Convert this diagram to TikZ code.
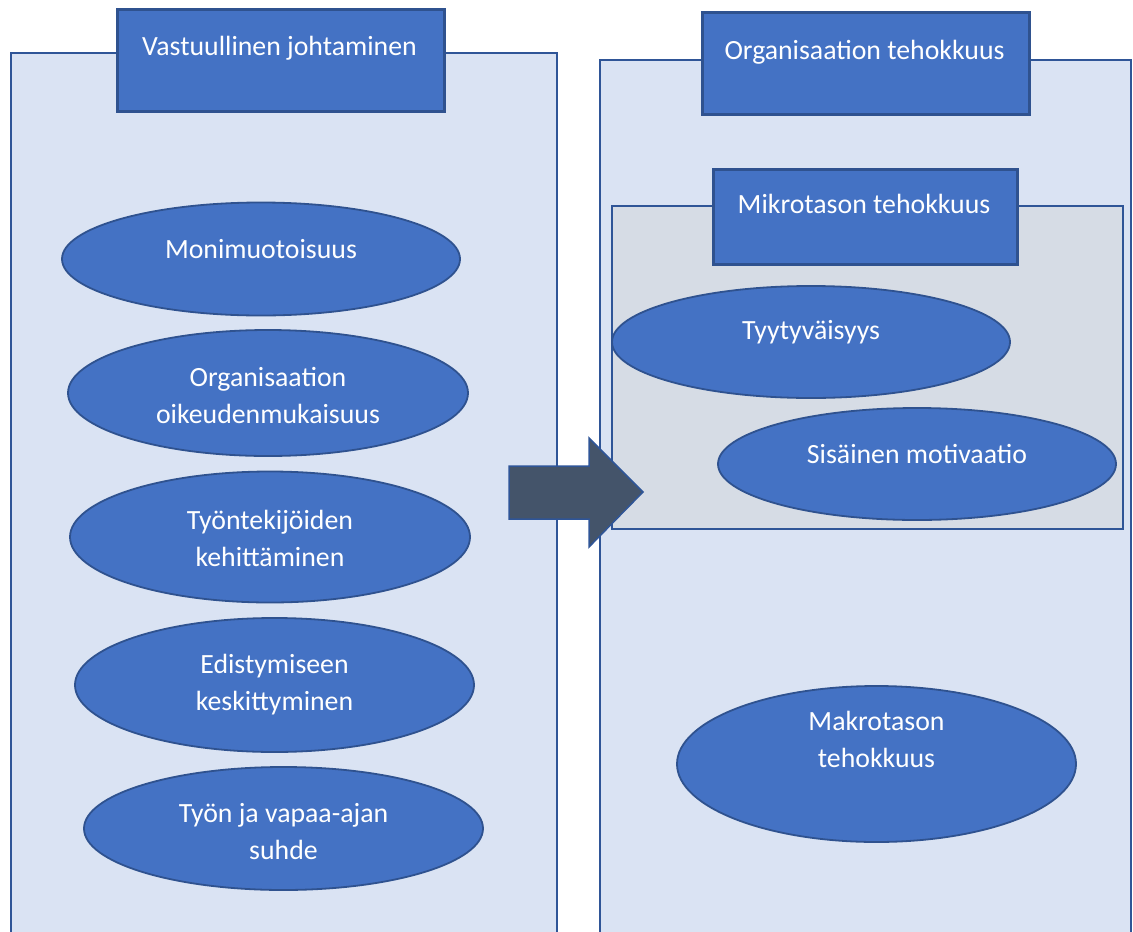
\documentclass[tikz,border=0pt]{standalone}
\usepackage{fontspec}
\setmainfont{Carlito}
\usetikzlibrary{shapes.geometric}
\definecolor{panelfill}{HTML}{DAE3F3}
\definecolor{panelline}{HTML}{2F5597}
\definecolor{shapefill}{HTML}{4472C4}
\definecolor{shapeline}{HTML}{2F528F}
\definecolor{innerfill}{HTML}{D6DCE5}
\definecolor{arrowfill}{HTML}{44546A}
\tikzset{
  panel/.style={draw=panelline, fill=panelfill, line width=2pt},
  innerpanel/.style={draw=panelline, fill=innerfill, line width=2pt},
  titlebox/.style={draw=shapeline, fill=shapefill, line width=2.5pt, rectangle, anchor=north west, inner sep=0pt},
  ell/.style={draw=shapeline, fill=shapefill, line width=1.8pt, ellipse, inner sep=0pt},
  txt/.style={text=white, font=\fontsize{27.8}{37}\selectfont, align=center, inner sep=0pt},
}
\begin{document}
\begin{tikzpicture}[x=1pt,y=-1pt]
\useasboundingbox (0,0) rectangle (1133,932);
\clip (0,0) rectangle (1133,932);
% left panel
\draw[panel] (11,53) rectangle (557,940);
\node[titlebox, minimum width=327, minimum height=102] (t1) at (116,8) {};
\node[txt] (t1t) at (279.5,48) {Vastuullinen johtaminen};
% right panel
\draw[panel] (600,60) rectangle (1131,940);
\node[titlebox, minimum width=327, minimum height=102] (t2) at (701,11) {};
\node[txt] (t2t) at (864.5,52) {Organisaation tehokkuus};
% inner panel
\draw[innerpanel] (612,206) rectangle (1123,529);
\node[titlebox, minimum width=304, minimum height=95] (t3) at (712,168) {};
\node[txt] (t3t) at (864,204) {Mikrotason tehokkuus};
% left ellipses
\node[ell, minimum width=398, minimum height=113] (e1) at (261,259) {};
\node[txt] (e1t) at (261,249) {Monimuotoisuus};
\node[ell, minimum width=400, minimum height=126] (e2) at (268,393) {};
\node[txt] (e2t) at (268,395.5) {Organisaation\\oikeudenmukaisuus};
\node[ell, minimum width=400, minimum height=131] (e3) at (270,537) {};
\node[txt] (e3t) at (270,538.5) {Työntekijöiden\\kehittäminen};
\node[ell, minimum width=399, minimum height=134] (e4) at (274.5,685) {};
\node[txt] (e4t) at (274.5,684.5) {Edistymiseen\\keskittyminen};
\node[ell, minimum width=399, minimum height=123] (e5) at (283.5,828.5) {};
\node[txt] (e5t) at (283.5,831.5) {Työn ja vapaa-ajan\\suhde};
% right ellipses
\node[ell, minimum width=398, minimum height=112] (r1) at (811,342) {};
\node[txt] (r1t) at (811,332) {Tyytyväisyys};
\node[ell, minimum width=398, minimum height=112] (r2) at (917,464) {};
\node[txt] (r2t) at (917,454) {Sisäinen motivaatio};
\node[ell, minimum width=399, minimum height=156] (r3) at (876.5,764) {};
\node[txt] (r3t) at (876.5,739) {Makrotason\\tehokkuus};
% arrow
\draw[draw=panelline, fill=arrowfill, line width=1.5pt, line join=miter]
  (509,466) -- (589,466) -- (589,438) -- (643,492) -- (589,547) -- (589,519) -- (509,519) -- cycle;
\end{tikzpicture}
\end{document}
